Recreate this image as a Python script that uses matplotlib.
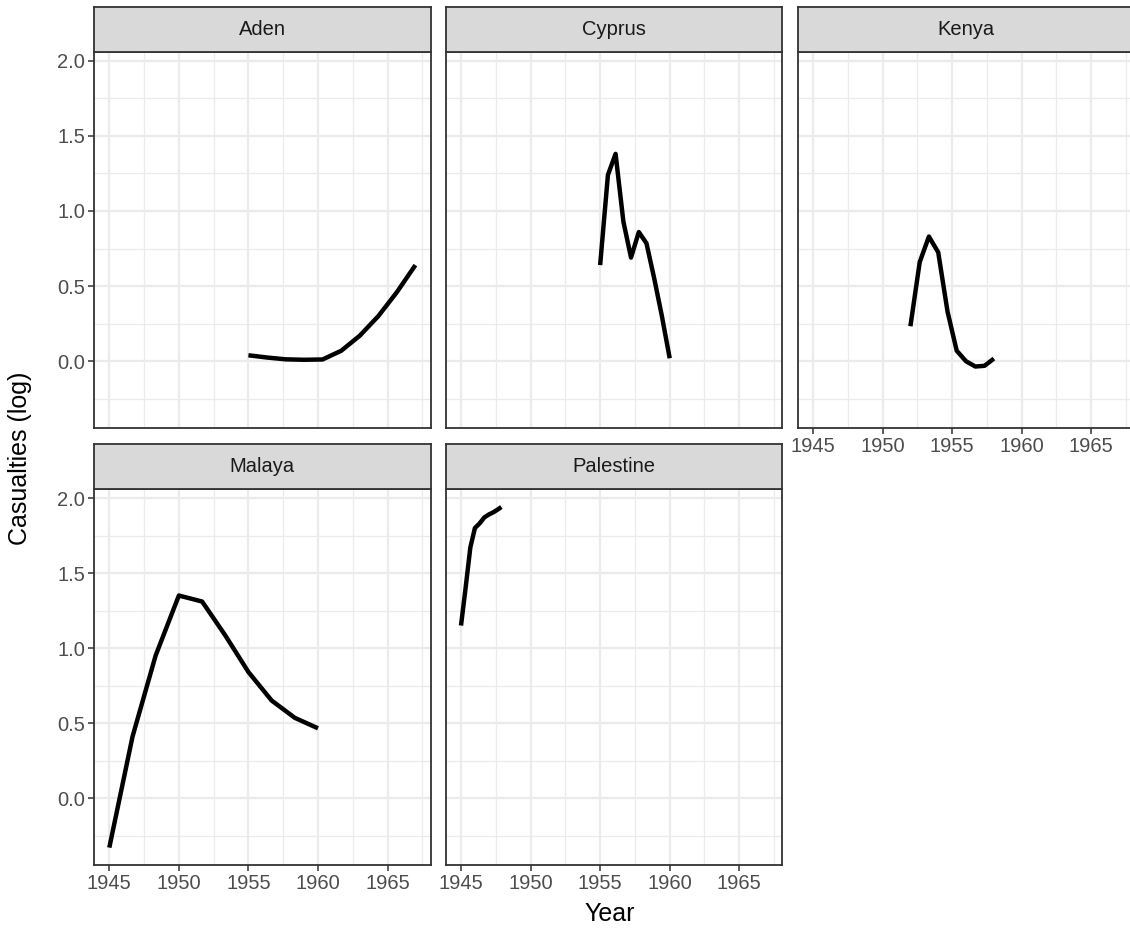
import matplotlib
matplotlib.use("Agg")
import matplotlib.pyplot as plt
from matplotlib.ticker import MultipleLocator

plt.rcParams['font.family'] = ['Liberation Sans', 'DejaVu Sans']

# data (log casualties per conflict)
aden_year = [1955.0, 1956.33, 1957.67, 1959.0, 1960.33, 1961.67, 1963.0, 1964.33, 1965.67, 1967.0]
aden_cas = [0.04, 0.025, 0.013, 0.01, 0.012, 0.07, 0.17, 0.30, 0.46, 0.64]

cyprus_year = [1955.0, 1955.56, 1956.11, 1956.67, 1957.22, 1957.78, 1958.33, 1958.89, 1959.44, 1960.0]
cyprus_cas = [0.64, 1.24, 1.38, 0.93, 0.69, 0.86, 0.785, 0.55, 0.30, 0.02]

kenya_year = [1952.0, 1952.67, 1953.33, 1954.0, 1954.67, 1955.33, 1956.0, 1956.67, 1957.33, 1958.0]
kenya_cas = [0.233, 0.66, 0.83, 0.725, 0.33, 0.07, 0.0, -0.035, -0.03, 0.018]

malaya_year = [1945.0, 1946.67, 1948.33, 1950.0, 1951.67, 1953.33, 1955.0, 1956.67, 1958.33, 1960.0]
malaya_cas = [-0.33, 0.41, 0.95, 1.35, 1.31, 1.085, 0.84, 0.65, 0.535, 0.465]

palestine_year = [1945.0, 1945.33, 1945.67, 1946.0, 1946.33, 1946.67, 1947.0, 1947.33, 1947.67, 1947.9]
palestine_cas = [1.15, 1.40, 1.67, 1.80, 1.83, 1.87, 1.89, 1.905, 1.925, 1.94]

panels = [
    ('Aden', aden_year, aden_cas),
    ('Cyprus', cyprus_year, cyprus_cas),
    ('Kenya', kenya_year, kenya_cas),
    ('Malaya', malaya_year, malaya_cas),
    ('Palestine', palestine_year, palestine_cas),
]

W, H = 1130, 934
fig = plt.figure(figsize=(W / 100, H / 100), dpi=100)

col_x = [94, 445.7, 797.7]
pw = 336.7
rows = [(51.7, 428.3, 6.7), (489, 865, 444)]

dark = '#333333'
grid_col = '#EBEBEB'

for i, (name, yrs, cas) in enumerate(panels):
    r, c = divmod(i, 3)
    top, bot, stop = rows[r]
    ax = fig.add_axes([col_x[c] / W, 1 - bot / H, pw / W, (bot - top) / H])
    ax.plot(yrs, cas, color='black', lw=3.2, solid_capstyle='butt', zorder=3)
    ax.set_xlim(1943.9, 1968.1)
    ax.set_ylim(-0.446, 2.06)
    ax.xaxis.set_major_locator(MultipleLocator(5))
    ax.xaxis.set_minor_locator(MultipleLocator(2.5))
    ax.yaxis.set_major_locator(MultipleLocator(0.5))
    ax.yaxis.set_minor_locator(MultipleLocator(0.25))
    ax.yaxis.set_major_formatter(matplotlib.ticker.FormatStrFormatter('%.1f'))
    ax.grid(which='major', color=grid_col, lw=1.6)
    ax.grid(which='minor', color=grid_col, lw=0.9)
    ax.set_axisbelow(True)
    for s in ax.spines.values():
        s.set_color(dark)
        s.set_linewidth(1.3)
    ax.tick_params(which='major', length=4, width=1.1, color=dark,
                   labelsize=14.5, labelcolor='#4D4D4D', pad=2.5)
    ax.tick_params(which='minor', length=0)
    if c != 0:
        ax.tick_params(axis='y', left=False, labelleft=False)
    if not (r == 1 or c == 2):
        ax.tick_params(axis='x', bottom=False, labelbottom=False)

    sax = fig.add_axes([col_x[c] / W, 1 - top / H, pw / W, (top - stop) / H])
    sax.set_facecolor('#D9D9D9')
    sax.set_xticks([])
    sax.set_yticks([])
    for s in sax.spines.values():
        s.set_color(dark)
        s.set_linewidth(1.3)
    sax.text(0.5, 0.5, name, ha='center', va='center', fontsize=14.5,
             color='#1A1A1A', transform=sax.transAxes)

fig.text(610 / W, 1 - 914 / H, 'Year', ha='center', va='center', fontsize=18, color='black')
fig.text(20 / W, 1 - 458 / H, 'Casualties (log)', ha='center', va='center',
         rotation=90, fontsize=18, color='black')

fig.savefig('out.png', dpi=100)
